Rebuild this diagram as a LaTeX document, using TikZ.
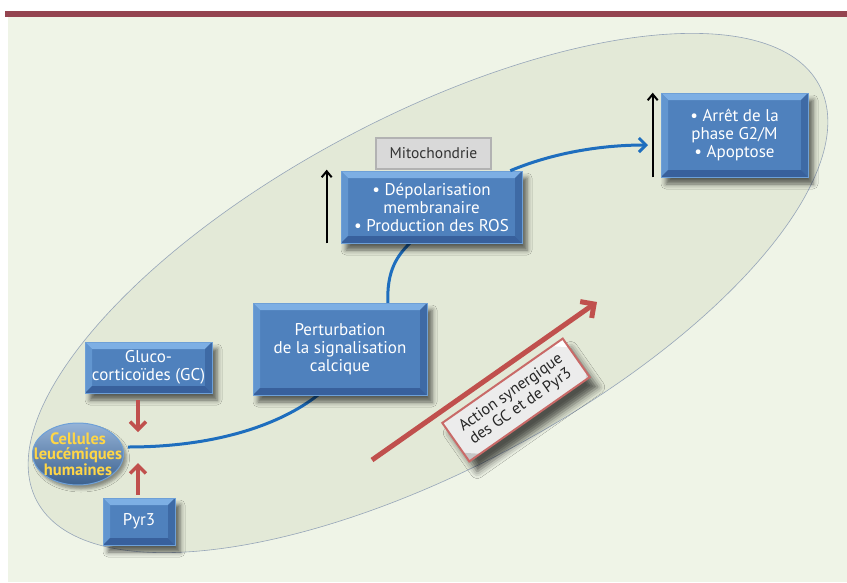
\documentclass[tikz,border=0pt]{standalone}
\usepackage{fontspec}
\setmainfont{PT Sans}
\usetikzlibrary{arrows.meta,shadows.blur,shapes.geometric}

\definecolor{bggreen}{RGB}{239,244,231}
\definecolor{ellgreen}{RGB}{227,233,215}
\definecolor{ellline}{RGB}{150,165,185}
\definecolor{barred}{RGB}{148,68,80}
\definecolor{boxblue}{RGB}{79,129,189}
\definecolor{boxtop}{RGB}{125,175,228}
\definecolor{boxleft}{RGB}{98,150,208}
\definecolor{boxright}{RGB}{62,106,165}
\definecolor{boxbottom}{RGB}{56,96,156}
\definecolor{boxedge}{RGB}{110,160,215}
\definecolor{flowblue}{RGB}{30,110,190}
\definecolor{arrowred}{RGB}{192,80,77}
\definecolor{cellyellow}{RGB}{255,214,70}
\definecolor{mitogray}{RGB}{217,217,217}

\tikzset{
  bevel/.style={path picture={
      \path (path picture bounding box.north west) coordinate (bw)
            (path picture bounding box.north east) coordinate (be)
            (path picture bounding box.south east) coordinate (bs)
            (path picture bounding box.south west) coordinate (bx);
      \fill[#1top] (bw) -- (be) -- ([shift={(-7pt,-7pt)}]be) -- ([shift={(7pt,-7pt)}]bw) -- cycle;
      \fill[#1left] (bw) -- ([shift={(7pt,-7pt)}]bw) -- ([shift={(7pt,7pt)}]bx) -- (bx) -- cycle;
      \fill[#1right] (be) -- ([shift={(-7pt,-7pt)}]be) -- ([shift={(-7pt,7pt)}]bs) -- (bs) -- cycle;
      \fill[#1bottom] (bx) -- ([shift={(7pt,7pt)}]bx) -- ([shift={(-7pt,7pt)}]bs) -- (bs) -- cycle;
    }},
  size/.style 2 args={minimum width=#1pt, minimum height=#2pt},
  flow/.style={draw=flowblue, line width=3pt},
}

\colorlet{labtop}{white}
\colorlet{lableft}{gray!10}
\colorlet{labright}{gray!35}
\colorlet{labbottom}{gray!45}

\begin{document}
\begin{tikzpicture}[x=1pt,y=-1pt]

  \useasboundingbox (0,0) rectangle (847,582);
  \fill[bggreen] (8,17) rectangle (847,582);
  \fill[barred] (5,11) rectangle (847,17);
  \draw[ellline, line width=0.6pt, fill=ellgreen, rotate around={28:(428,293)}]
    (428,293) ellipse [x radius=443, y radius=176];

  \coordinate (hub)  at (128,447);
  \coordinate (tail) at (372,460);
  \coordinate (head) at (597,302);

  % connectors drawn first, boxes sit on top
  \draw[flow] (hub) .. controls (215,447) and (280,425) .. (318,395);
  \draw[flow] (388,305) .. controls (386,270) and (398,255) .. (410,243);

  \begin{scope}[every node/.style={draw=boxedge, fill=boxblue, text=white, align=center,
      inner sep=0pt, line width=0.6pt, bevel=box,
      font=\fontsize{17}{18}\selectfont,
      blur shadow={shadow xshift=5pt, shadow yshift=-7pt, shadow blur radius=5pt, shadow opacity=60}}]
    \node[size={127}{51}] (gc)    at (148.5,367.5) {Gluco-\\corticoïdes (GC)};
    \node[size={72}{47}]  (pyr)   at (139,521.5)   {Pyr3};
    \node[size={174}{92}] (pert)  at (340,349)     {Perturbation\\de la signalisation\\calcique};
    \node[size={181}{72}] (depol) at (431.5,207)   {• Dépolarisation\\membranaire\\• Production des ROS};
    \node[size={147}{84}] (stop)  at (734.5,135)   {• Arrêt de la\\phase G2/M\\• Apoptose};
  \end{scope}

  \node[draw=gray!60, fill=mitogray, line width=1.2pt, text=black!80, size={115}{31},
        font=\fontsize{15.5}{17}\selectfont, inner sep=0pt] (mito) at (433.5,153.5) {Mitochondrie};

  \node[ellipse, draw=boxedge, line width=1pt, minimum width=91pt, minimum height=62pt,
        inner xsep=-12pt, inner ysep=-4pt, top color=boxblue!60!white, bottom color=boxblue!75!black,
        text=cellyellow, align=center, font=\bfseries\fontsize{16.5}{15.5}\selectfont,
        blur shadow={shadow xshift=3pt, shadow yshift=-4pt, shadow blur radius=3pt, shadow opacity=40}]
        (cells) at (78,454) {Cellules\\leucémiques\\humaines};

  \node[draw=arrowred!85!white, line width=2pt, rotate=35, size={147}{47}, inner sep=0pt,
        fill=gray!15, bevel=lab, align=center, text=black!85,
        font=\fontsize{16}{17}\selectfont,
        blur shadow={shadow xshift=8pt, shadow yshift=-10pt, shadow blur radius=7pt, shadow opacity=65}]
        (syn) at (516,400) {Action synergique\\des GC et de Pyr3};

  % arrows
  \draw[flow, -{Straight Barb[length=7pt,width=14pt]}] (depol.north east) ++(-12pt,0pt)
     .. controls (560,150) and (610,145) .. (648,145);
  \draw[line width=2pt, -{Straight Barb[length=6pt,width=10pt]}]
     ([xshift=-14pt]depol.south west) -- ([xshift=-14pt,yshift=1pt]depol.north west);
  \draw[line width=2pt, -{Straight Barb[length=6pt,width=10pt]}]
     ([xshift=-8pt]stop.south west) -- ([xshift=-8pt]stop.north west);
  \draw[arrowred, line width=3.5pt, -{Straight Barb[length=8pt,width=16pt]}, shorten <=7pt, shorten >=15pt]
     ([xshift=10pt]hub |- gc.south) -- ([xshift=10pt]hub);
  \draw[arrowred, line width=3.5pt, -{Straight Barb[length=8pt,width=16pt]}, shorten <=3pt, shorten >=16pt]
     ([xshift=10pt]hub |- pyr.north) -- ([xshift=10pt]hub);
  \draw[arrowred, line width=5pt, -{Straight Barb[length=10pt,width=20pt]}] (tail) -- (head);

\end{tikzpicture}
\end{document}
